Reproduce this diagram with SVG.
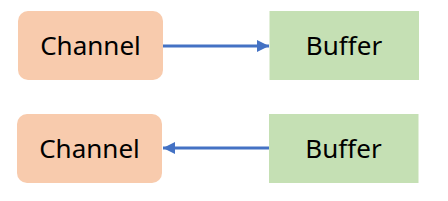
<svg xmlns="http://www.w3.org/2000/svg" width="448" height="201" viewBox="0 0 448 201">
<style>
.ch{fill:#F8CBAD}
.bf{fill:#C5E0B4}
.t{font-family:"Noto Sans","Open Sans",sans-serif;font-size:26px;fill:#000;text-anchor:middle}
.c{stroke:#4472C4;stroke-width:3;fill:none}
</style>
<defs>
<marker id="ah" viewBox="0 0 10 10" refX="10" refY="5" markerWidth="4" markerHeight="4" orient="auto" markerUnits="strokeWidth">
<path d="M0,0 L10,5 L0,10 z" fill="#4472C4"/>
</marker>
</defs>
<g id="channel1"><rect class="ch" x="18" y="11" width="145" height="69" rx="10"/><text class="t" x="90.5" y="55">Channel</text></g>
<g id="buffer1"><rect class="bf" x="269.5" y="11" width="149.5" height="69"/><text class="t" x="344" y="55">Buffer</text></g>
<g id="channel2"><rect class="ch" x="17" y="114" width="145" height="69" rx="10"/><text class="t" x="89.5" y="158">Channel</text></g>
<g id="buffer2"><rect class="bf" x="269" y="114" width="149.5" height="69"/><text class="t" x="343.5" y="158">Buffer</text></g>
<g id="connectors">
<line class="c" x1="163" y1="46" x2="269" y2="46" marker-end="url(#ah)"/>
<line class="c" x1="269" y1="148" x2="163" y2="148" marker-end="url(#ah)"/>
</g>
</svg>
